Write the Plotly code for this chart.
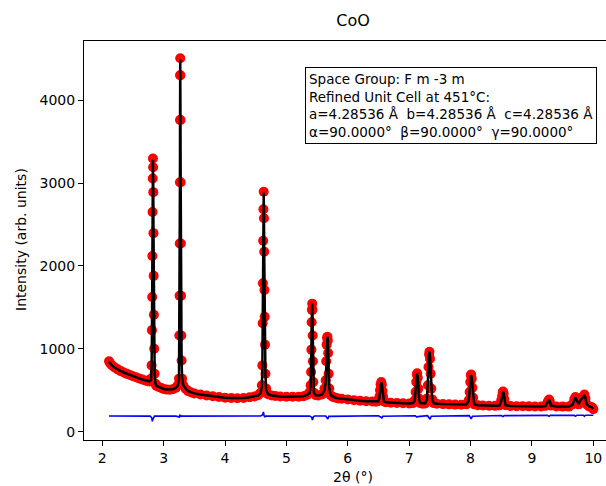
import plotly.graph_objects as go

# Observed / calculated pattern (2theta in degrees, intensity in arb. units)
two_theta = [
    2.11, 2.13, 2.16, 2.20, 2.25, 2.30, 2.35, 2.40, 2.45, 2.50, 2.55, 2.60, 2.65, 2.70, 2.74, 2.77,
    2.795, 2.803, 2.809, 2.813, 2.816, 2.819, 2.822, 2.825, 2.828, 2.831, 2.834, 2.837, 2.841, 2.846, 2.853, 2.865,
    2.88, 2.92, 2.96, 3.00, 3.05, 3.10, 3.15, 3.20, 3.23,
    3.250, 3.255, 3.259, 3.262, 3.265, 3.267, 3.269, 3.270, 3.272, 3.274, 3.277, 3.280, 3.283, 3.287, 3.292, 3.300,
    3.32, 3.36, 3.40, 3.45, 3.50, 3.60, 3.70, 3.80, 3.90, 4.00, 4.10, 4.20, 4.30, 4.40, 4.48, 4.54, 4.58,
    4.600, 4.608, 4.613, 4.617, 4.621, 4.625, 4.630, 4.634, 4.638, 4.642, 4.646, 4.651, 4.658, 4.670,
    4.70, 4.76, 4.82, 4.90, 5.00, 5.10, 5.20, 5.28, 5.34, 5.38,
    5.395, 5.402, 5.407, 5.411, 5.415, 5.420, 5.424, 5.428, 5.432, 5.438, 5.448,
    5.48, 5.52, 5.58, 5.62,
    5.640, 5.648, 5.655, 5.662, 5.668, 5.674, 5.680, 5.688, 5.698,
    5.72, 5.76, 5.80, 5.85, 5.90, 6.00, 6.10, 6.20, 6.30, 6.40, 6.46, 6.50,
    6.515, 6.525, 6.535, 6.545, 6.555, 6.565, 6.575, 6.59,
    6.62, 6.70, 6.80, 6.90, 7.00, 7.06, 7.09,
    7.105, 7.115, 7.125, 7.130, 7.140, 7.150, 7.162, 7.18,
    7.22, 7.26, 7.29, 7.305, 7.315, 7.325, 7.330, 7.340, 7.350, 7.360, 7.375, 7.40,
    7.45, 7.55, 7.65, 7.75, 7.85, 7.93, 7.97,
    7.985, 7.995, 8.005, 8.010, 8.020, 8.030, 8.042, 8.06,
    8.12, 8.20, 8.30, 8.40, 8.47, 8.50,
    8.515, 8.525, 8.530, 8.540, 8.552, 8.57,
    8.65, 8.75, 8.85, 8.95, 9.05, 9.15, 9.22, 9.25,
    9.265, 9.280, 9.292, 9.31,
    9.40, 9.50, 9.60, 9.66,
    9.690, 9.710, 9.725, 9.745, 9.76, 9.79,
    9.835, 9.855, 9.872, 9.89, 9.93, 9.97, 9.99, 10.00,
]

intensity_obs = [
    850, 822, 800, 776, 752, 731, 714, 698, 684, 670, 656, 643, 630, 618, 610, 605,
    640, 800, 1225, 1625, 2120, 2650, 3055, 3295, 3190, 2890, 2395, 1880, 1410, 1000, 700, 580,
    555, 540, 527, 516, 508, 506, 512, 530, 560,
    640, 1160, 1640, 2270, 3010, 3760, 4300, 4505, 4300, 3760, 3010, 2270, 1640, 1160, 860, 640,
    560, 515, 490, 474, 462, 448, 437, 427, 418, 411, 406, 404, 407, 415, 425, 440, 470,
    560, 800, 1308, 1790, 2304, 2683, 2895, 2574, 2171, 1709, 1387, 1050, 700, 520,
    452, 438, 430, 425, 422, 421, 422, 428, 445, 480,
    560, 720, 990, 1320, 1470, 1545, 1470, 1160, 850, 600, 470,
    440, 438, 450, 520,
    620, 850, 1050, 1130, 1145, 1100, 950, 700, 520,
    440, 420, 410, 402, 397, 388, 380, 374, 368, 364, 362, 370,
    420, 500, 570, 600, 570, 490, 420, 365,
    355, 350, 346, 343, 341, 345, 380,
    480, 600, 690, 705, 650, 520, 400, 345,
    338, 340, 400, 560, 780, 930, 965, 880, 700, 520, 390, 345,
    337, 333, 330, 327, 325, 330, 380,
    480, 600, 680, 690, 640, 530, 410, 330,
    320, 317, 314, 312, 318, 380,
    430, 475, 485, 460, 390, 320,
    310, 308, 307, 306, 305, 305, 312, 345,
    370, 388, 365, 315,
    304, 303, 303, 330,
    390, 418, 380, 340, 330, 390,
    420, 448, 400, 330, 305, 298, 285, 270,
]

intensity_calc = [
    845, 820, 798, 775, 750, 730, 714, 698, 684, 670, 656, 643, 630, 618, 609, 606,
    625, 780, 1180, 1600, 2080, 2620, 3050, 3280, 3200, 2930, 2450, 1950, 1480, 1040, 720, 585,
    555, 540, 527, 516, 508, 506, 512, 530, 555,
    630, 1150, 1630, 2260, 3000, 3750, 4310, 4490, 4320, 3790, 3040, 2290, 1670, 1180, 870, 650,
    560, 515, 490, 474, 462, 448, 437, 427, 418, 411, 406, 404, 407, 415, 425, 438, 465,
    540, 780, 1280, 1770, 2290, 2680, 2885, 2600, 2200, 1730, 1380, 1020, 690, 510,
    452, 438, 430, 425, 422, 421, 422, 428, 445, 470,
    540, 700, 970, 1290, 1460, 1545, 1480, 1200, 880, 610, 470,
    440, 438, 448, 500,
    600, 830, 1040, 1130, 1145, 1120, 980, 720, 530,
    440, 420, 410, 402, 397, 388, 380, 374, 368, 364, 362, 368,
    410, 490, 565, 595, 570, 495, 415, 365,
    355, 350, 346, 343, 341, 345, 370,
    470, 590, 690, 700, 660, 530, 400, 345,
    338, 340, 390, 550, 770, 925, 965, 900, 720, 530, 390, 345,
    337, 333, 330, 327, 325, 328, 370,
    470, 595, 675, 685, 650, 540, 410, 330,
    320, 317, 314, 312, 316, 370,
    425, 470, 480, 465, 395, 320,
    310, 308, 307, 306, 305, 305, 310, 340,
    368, 385, 368, 315,
    304, 303, 303, 325,
    385, 415, 385, 345, 335, 380,
    415, 445, 410, 335, 305, 298, 288, 275,
]

# Difference curve (obs - calc, offset)
two_theta_diff = [
    2.11, 2.50, 2.78, 2.805, 2.815, 2.825, 2.835, 2.85, 3.20, 3.255, 3.262, 3.268, 3.275, 3.285,
    4.58, 4.615, 4.625, 4.635, 4.645, 4.66, 5.38, 5.41, 5.425, 5.44, 5.46, 5.64, 5.66, 5.675, 5.69,
    6.50, 6.54, 6.555, 6.57, 7.10, 7.125, 7.14, 7.30, 7.325, 7.34, 7.36, 7.98, 8.01, 8.03,
    8.50, 8.53, 8.55, 9.25, 9.28, 9.30, 9.69, 9.71, 9.73, 9.84, 9.855, 9.87, 10.00,
]
intensity_diff = [
    190, 190, 188, 170, 125, 150, 178, 188, 188, 178, 205, 175, 200, 188,
    190, 205, 240, 200, 176, 188, 190, 175, 142, 180, 190, 190, 165, 152, 185,
    192, 175, 166, 186, 192, 176, 182, 193, 162, 150, 186, 194, 156, 186,
    196, 183, 194, 197, 186, 197, 198, 186, 198, 198, 186, 198, 198,
]

x_ticks = [2, 3, 4, 5, 6, 7, 8, 9, 10]
y_ticks = [0, 1000, 2000, 3000, 4000]

info_lines = [
    "Space Group: F m -3 m",
    "Refined Unit Cell at 451°C:",
    "a=4.28536 Å  b=4.28536 Å  c=4.28536 Å",
    "α=90.0000°  β=90.0000°  γ=90.0000°",
]

FONT = "DejaVu Sans"

fig = go.Figure()
fig.add_trace(go.Scatter(
    x=two_theta, y=intensity_obs, mode="markers",
    marker=dict(color="#ff0000", size=10, line=dict(width=0)),
    name="Observed", showlegend=False,
))
fig.add_trace(go.Scatter(
    x=two_theta, y=intensity_calc, mode="lines",
    line=dict(color="#000000", width=2.5),
    name="Calculated", showlegend=False,
))
fig.add_trace(go.Scatter(
    x=two_theta_diff, y=intensity_diff, mode="lines",
    line=dict(color="#0000ff", width=1.6),
    name="Difference", showlegend=False,
))

L, T, R, B = 84, 41, 0, 46
W, H = 606, 486
pw = W - L - R
ph = H - T - B

fig.update_layout(
    width=W, height=H,
    margin=dict(l=L, r=R, t=T, b=B, pad=0, autoexpand=False),
    paper_bgcolor="white", plot_bgcolor="white",
    font=dict(family=FONT, size=14, color="black"),
    title=dict(text="CoO", x=353 / W, xref="container", xanchor="center",
               y=1 - 20 / H, yref="container", yanchor="middle",
               font=dict(family=FONT, size=16, color="black")),
    xaxis=dict(
        range=[1.702, 2 + (W - 102.3) / 61.375], tickvals=x_ticks, ticktext=[str(v) for v in x_ticks],
        ticks="outside", ticklen=5, tickwidth=1, tickcolor="black",
        showline=True, linecolor="black", linewidth=1, mirror=True,
        showgrid=False, zeroline=False, automargin=False,
        tickfont=dict(family=FONT, size=14),
    ),
    yaxis=dict(
        range=[-100, 4713], tickvals=y_ticks, ticktext=[str(v) for v in y_ticks],
        ticks="outside", ticklen=5, tickwidth=1, tickcolor="black",
        showline=True, linecolor="black", linewidth=1, mirror=False,
        showgrid=False, zeroline=False, automargin=False,
        tickfont=dict(family=FONT, size=14),
    ),
    annotations=[
        dict(
            text="<br>".join(info_lines), align="left", showarrow=False,
            xref="paper", yref="paper",
            x=(305 - L) / pw, y=1 - (67 - T) / ph, xanchor="left", yanchor="top",
            bordercolor="black", borderwidth=1, borderpad=3, bgcolor="white",
            font=dict(family=FONT, size=13.5, color="black"),
        ),
        dict(
            text="2θ (°)", showarrow=False, xref="paper", yref="paper",
            x=(353 - L) / pw, y=-(477 - T - ph) / ph, xanchor="center", yanchor="middle",
            font=dict(family=FONT, size=14, color="black"),
        ),
        dict(
            text="Intensity (arb. units)", showarrow=False, xref="paper", yref="paper",
            x=-(84 - 21) / pw, y=(ph - (240 - T)) / ph, xanchor="center", yanchor="middle",
            textangle=-90,
            font=dict(family=FONT, size=14, color="black"),
        ),
    ],
)

fig.write_html(
    "out.html",
    config={"displayModeBar": False},
    post_script="document.body.style.margin='0';document.body.style.overflow='hidden';",
)
